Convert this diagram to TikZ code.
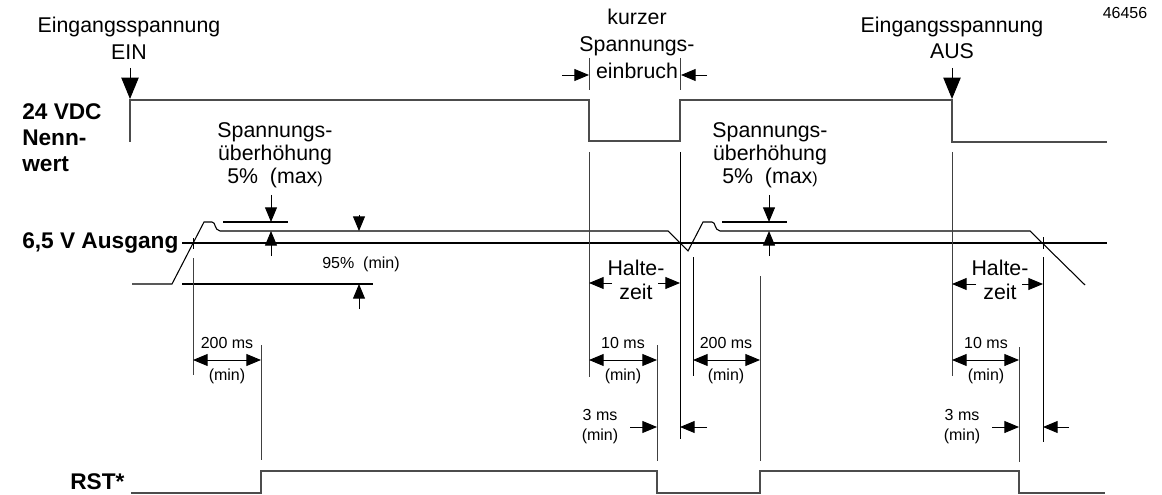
\documentclass[tikz,border=0pt]{standalone}
\usepackage{fontspec}
\setmainfont{Liberation Sans}
\usetikzlibrary{arrows.meta}

\begin{document}
\begin{tikzpicture}[x=0.75pt,y=0.75pt,yscale=-1,xscale=1,
    sig/.style={draw=black!70,line width=0.9pt},
    ext/.style={draw=black!75,line width=0.7pt},
    dim/.style={line width=0.7pt,-{Triangle[length=11pt,width=9pt]}},
    dimboth/.style={line width=0.7pt,{Triangle[length=11pt,width=9pt]}-{Triangle[length=11pt,width=9pt]}},
    bigarrow/.style={line width=0.7pt,-{Triangle[length=16pt,width=13pt]}},
    lbl/.style={inner sep=0pt,align=center,font=\fontsize{16}{20}\selectfont},
    lblsmall/.style={inner sep=0pt,align=center,font=\fontsize{12}{15}\selectfont},
    lblbold/.style={inner sep=0pt,align=left,font=\fontsize{17}{19.5}\selectfont\bfseries}]
    \useasboundingbox (0,0) rectangle (1162,495);

    % Eingangsspannung 24 VDC
    \draw [sig]    (130,142) -- (130,100) -- (589,100) -- (589,141) -- (680,141) -- (680,100) -- (952,100) -- (952,142) -- (1107,142) ;
    \draw [bigarrow]    (130,68) -- (130,99) ;
    \draw [bigarrow]    (952,68) -- (952,99) ;
    \draw [ext]    (589,58) -- (589,90) ;
    \draw [ext]    (680,58) -- (680,90) ;
    \draw [dim]    (562,75) -- (589,75) ;
    \draw [dim]    (707,75) -- (681,75) ;

    % Ausgang 6,5 V
    \draw [line width=0.8pt]    (182,243) -- (1107,243) ;
    \draw [line width=0.8pt]    (182,284) -- (373,284) ;
    \draw [line width=0.8pt]    (223,222) -- (288,222) ;
    \draw [line width=0.8pt]    (722,222) -- (787,222) ;
    \draw [line width=0.8pt]    (132,284) -- (172,284) -- (204,222) -- (212,222) .. controls (216,222) and (214,230) .. (220,231) -- (668,231) -- (688,251) -- (703,222) -- (712,222) .. controls (716,222) and (714,230) .. (720,231) -- (1030,231) -- (1085,285) ;
    \draw [line width=0.7pt]    (193,238) -- (193,249) ;
    \draw [line width=0.7pt]    (1043,237) -- (1043,249) ;
    \draw [dim]    (271,195) -- (271,222) ;
    \draw [dim]    (271,256) -- (271,231) ;
    \draw [dim]    (769,195) -- (769,222) ;
    \draw [dim]    (769,256) -- (769,231) ;
    \draw [dim]    (359,215) -- (359,231) ;
    \draw [dim]    (359,309) -- (359,284) ;

    % Hilfslinien
    \draw [ext]    (193,258) -- (193,375) ;
    \draw [ext]    (261,345) -- (261,460) ;
    \draw [ext]    (589,152) -- (589,377) ;
    \draw [ext]    (657,345) -- (657,461) ;
    \draw [line width=0.7pt]    (680,152) -- (680,439) ;
    \draw [line width=0.7pt]    (693,257) -- (693,376) ;
    \draw [ext]    (760,276) -- (760,461) ;
    \draw [ext]    (952,152) -- (952,376) ;
    \draw [ext]    (1019,347) -- (1019,462) ;
    \draw [line width=0.7pt]    (1043,257) -- (1043,442) ;

    % Haltezeit
    \draw [dim]    (612,283) -- (589,283) ;
    \draw [dim]    (658,283) -- (680,283) ;
    \draw [dim]    (976,284) -- (952,284) ;
    \draw [dim]    (1022,284) -- (1043,284) ;

    % Zeiten
    \draw [dimboth]    (193,360) -- (261,360) ;
    \draw [dimboth]    (589,360) -- (657,360) ;
    \draw [dimboth]    (693,360) -- (760,360) ;
    \draw [dimboth]    (952,360) -- (1019,360) ;
    \draw [dim]    (630,427) -- (657,427) ;
    \draw [dim]    (707,427) -- (680,427) ;
    \draw [dim]    (992,427) -- (1019,427) ;
    \draw [dim]    (1069,427) -- (1043,427) ;

    % RST*
    \draw [sig]    (131,493) -- (261,493) -- (261,471) -- (657,471) -- (657,493) -- (760,493) -- (760,471) -- (1019,471) -- (1019,493) -- (1105,493) ;

    % Texte
    \draw (129,38) node [lbl] (ein) {Eingangsspannung\\EIN};
    \draw (637,44) node [lbl] (einbruch) {kurzer\\Spannungs-\\einbruch};
    \draw (952,38) node [lbl] (aus) {Eingangsspannung\\AUS};
    \draw (1125,13) node [lblsmall] (nummer) {46456};
    \draw (22,138) node [lblbold,anchor=west] (nenn) {24 VDC\\Nenn-\\wert};
    \draw (22,243) node [lblbold,anchor=west] (ausgang) {6,5 V Ausgang};
    \draw (70,482) node [lblbold,anchor=west] (rst) {RST*};
    \draw (275,155) node [lbl,font=\fontsize{16}{17.25}\selectfont] (hoch1) {Spannungs-\\überhöhung\\5\%\ \ (max{\fontsize{12}{12}\selectfont)}};
    \draw (770,155) node [lbl,font=\fontsize{16}{17.25}\selectfont] (hoch2) {Spannungs-\\überhöhung\\5\%\ \ (max{\fontsize{12}{12}\selectfont)}};
    \draw (361,264) node [lblsmall] (min95) {95\%\ \ (min)};
    \draw (636,280) node [lbl,font=\fontsize{16}{18}\selectfont] (halte1) {Halte-\\zeit};
    \draw (1000,280) node [lbl,font=\fontsize{16}{18}\selectfont] (halte2) {Halte-\\zeit};
    \draw (227,343) node [lblsmall] (t200a) {200 ms};
    \draw (227,376) node [lblsmall] (t200amin) {(min)};
    \draw (623,343) node [lblsmall] (t10a) {10 ms};
    \draw (623,376) node [lblsmall] (t10amin) {(min)};
    \draw (726,343) node [lblsmall] (t200b) {200 ms};
    \draw (726,376) node [lblsmall] (t200bmin) {(min)};
    \draw (986,343) node [lblsmall] (t10b) {10 ms};
    \draw (986,376) node [lblsmall] (t10bmin) {(min)};
    \draw (600,427) node [lblsmall] (t3a) {3 ms\\(min)};
    \draw (962,427) node [lblsmall] (t3b) {3 ms\\(min)};
  \end{tikzpicture}
\end{document}
